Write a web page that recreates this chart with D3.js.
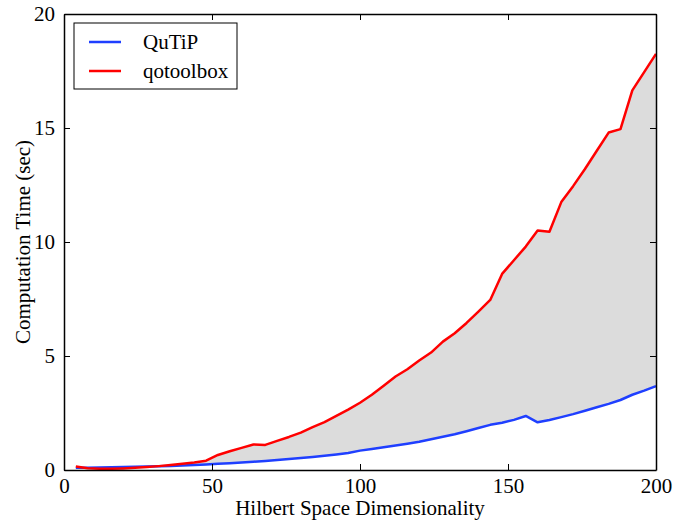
<!DOCTYPE html>
<html>
<head>
<meta charset="utf-8">
<script src="https://cdn.jsdelivr.net/npm/d3@7"></script>
<style>
  body { margin: 0; background: #fff; }
</style>
</head>
<body>
<script>
// Hilbert space dimension, sampled every 4
var dims = [4, 8, 12, 16, 20, 24, 28, 32, 36, 40, 44, 48, 52, 56, 60, 64, 68, 72, 76, 80,
            84, 88, 92, 96, 100, 104, 108, 112, 116, 120, 124, 128, 132, 136, 140, 144, 148,
            152, 156, 160, 164, 168, 172, 176, 180, 184, 188, 192, 196, 200];

var qutipTimes = [0.10, 0.10, 0.11, 0.12, 0.13, 0.14, 0.15, 0.16, 0.18, 0.20, 0.22, 0.24,
                  0.27, 0.30, 0.33, 0.36, 0.40, 0.44, 0.48, 0.53, 0.57, 0.62, 0.68, 0.75,
                  0.85, 0.92, 1.00, 1.07, 1.15, 1.24, 1.35, 1.46, 1.57, 1.70, 1.84, 1.98,
                  2.07, 2.20, 2.37, 2.09, 2.19, 2.32, 2.45, 2.60, 2.75, 2.90, 3.07, 3.30,
                  3.48, 3.68];

var qotoolboxTimes = [0.15, 0.08, 0.05, 0.05, 0.07, 0.10, 0.13, 0.17, 0.22, 0.27, 0.33, 0.41,
                      0.66, 0.82, 0.97, 1.12, 1.10, 1.28, 1.45, 1.64, 1.88, 2.10, 2.37, 2.65,
                      2.95, 3.30, 3.70, 4.10, 4.42, 4.80, 5.15, 5.63, 6.00, 6.45, 6.95, 7.46,
                      8.60, 9.20, 9.80, 10.50, 10.45, 11.75, 12.45, 13.20, 14.00, 14.80, 14.95,
                      16.65, 17.45, 18.25];

var xTicks = [0, 50, 100, 150, 200];
var yTicks = [0, 5, 10, 15, 20];
var seriesNames = ["QuTiP", "qotoolbox"];
var seriesColors = ["#1f3fff", "#ff0000"];

var serif = "Liberation Serif";
var fontSize = "21px";

var margin = {top: 14, right: 36, bottom: 51, left: 64};
var width = 692 - margin.left - margin.right;
var height = 521 - margin.top - margin.bottom;

var svg = d3.select("body").append("svg")
    .attr("width", 692)
    .attr("height", 521)
  .append("g")
    .attr("transform", "translate(" + margin.left + "," + margin.top + ")");

var xScale = d3.scaleLinear().domain([0, 200]).range([0, width]);
var yScale = d3.scaleLinear().domain([0, 20]).range([height, 0]);

var rows = dims.map(function(d, i) {
  return {dim: d, qutip: qutipTimes[i], qotoolbox: qotoolboxTimes[i]};
});

// shaded region between the two curves
var area = d3.area()
    .x(function(d) { return xScale(d.dim); })
    .y0(function(d) { return yScale(d.qutip); })
    .y1(function(d) { return yScale(d.qotoolbox); });

svg.append("path")
    .datum(rows)
    .attr("d", area)
    .attr("fill", "#dcdcdc");

var keys = ["qutip", "qotoolbox"];
keys.forEach(function(k, i) {
  var line = d3.line()
      .x(function(d) { return xScale(d.dim); })
      .y(function(d) { return yScale(d[k]); });
  svg.append("path")
      .datum(rows)
      .attr("d", line)
      .attr("fill", "none")
      .attr("stroke", seriesColors[i])
      .attr("stroke-width", 2.5)
      .attr("stroke-linejoin", "round");
});

// axes: ticks point inward on all four sides
var tickLen = 6;
svg.append("g")
    .attr("transform", "translate(0," + height + ")")
    .call(d3.axisBottom(xScale).tickValues(xTicks).tickSizeInner(-tickLen).tickSizeOuter(0).tickPadding(8))
    .call(styleAxis);
svg.append("g")
    .call(d3.axisTop(xScale).tickValues(xTicks).tickSizeInner(-tickLen).tickSizeOuter(0).tickFormat(""))
    .call(styleAxis);
svg.append("g")
    .call(d3.axisLeft(yScale).tickValues(yTicks).tickSizeInner(-tickLen).tickSizeOuter(0).tickPadding(9))
    .call(styleAxis);
svg.append("g")
    .attr("transform", "translate(" + width + ",0)")
    .call(d3.axisRight(yScale).tickValues(yTicks).tickSizeInner(-tickLen).tickSizeOuter(0).tickFormat(""))
    .call(styleAxis);

function styleAxis(g) {
  g.attr("font-family", null).attr("font-size", null);
  g.select(".domain").attr("stroke", "#000").attr("stroke-width", 1.5);
  g.selectAll(".tick line").attr("stroke", "#000").attr("stroke-width", 1);
  g.selectAll(".tick text")
      .attr("fill", "#000")
      .style("font-family", serif)
      .style("font-size", fontSize);
}

// axis labels
svg.append("text")
    .attr("x", width / 2)
    .attr("y", height + 45)
    .attr("text-anchor", "middle")
    .style("font-family", serif)
    .style("font-size", fontSize)
    .text("Hilbert Space Dimensionality");

svg.append("text")
    .attr("transform", "rotate(-90)")
    .attr("x", -height / 2)
    .attr("y", -34)
    .attr("text-anchor", "middle")
    .style("font-family", serif)
    .style("font-size", fontSize)
    .text("Computation Time (sec)");

// legend
var legend = svg.append("g").attr("transform", "translate(10,9)");
legend.append("rect")
    .attr("width", 163)
    .attr("height", 66)
    .attr("fill", "#fff")
    .attr("stroke", "#000")
    .attr("stroke-width", 1);
seriesNames.forEach(function(name, i) {
  legend.append("line")
      .attr("x1", 15).attr("x2", 47)
      .attr("y1", 19 + i * 29).attr("y2", 19 + i * 29)
      .attr("stroke", seriesColors[i])
      .attr("stroke-width", 2.5);
  legend.append("text")
      .attr("x", 69)
      .attr("y", 26 + i * 29)
      .style("font-family", serif)
      .style("font-size", fontSize)
      .text(name);
});
</script>
</body>
</html>
